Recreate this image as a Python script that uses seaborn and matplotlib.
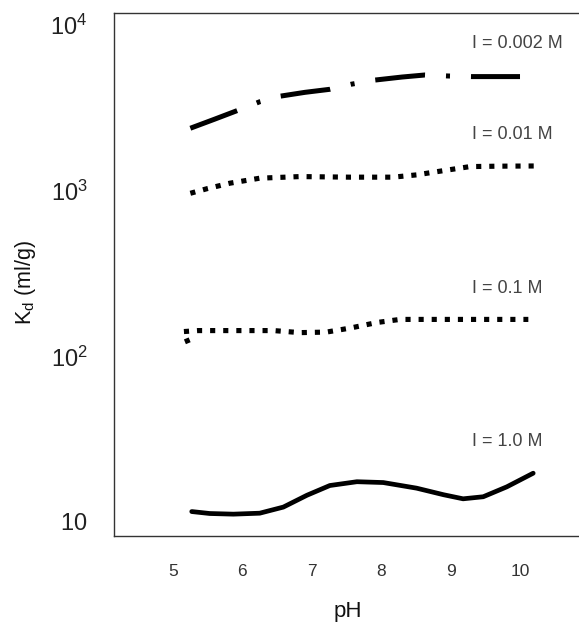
import matplotlib
matplotlib.use("Agg")
import matplotlib.pyplot as plt
import seaborn as sns
import pandas as pd
import numpy as np

# ---- data ----
ph_002 = [5.25, 5.6, 5.95, 6.25, 6.55, 6.9, 7.26, 7.57, 7.91, 8.3, 8.63, 8.97, 9.3, 9.7, 10.0]
kd_002 = [2380, 2700, 3070, 3440, 3720, 3920, 4090, 4390, 4650, 4850, 4990, 4920, 4880, 4880, 4880]

ph_001 = [5.25, 5.5, 5.82, 6.25, 6.83, 7.55, 8.17, 8.51, 8.9, 9.28, 9.7, 10.22]
kd_001 = [964, 1030, 1109, 1189, 1216, 1206, 1206, 1245, 1321, 1397, 1405, 1409]

ph_01 = [5.22, 5.15, 5.36, 5.87, 6.45, 6.83, 7.21, 7.55, 7.94, 8.27, 9.0, 10.12]
kd_01 = [120, 141, 143, 143, 143, 139, 140, 148, 160, 167, 167, 167]

ph_10 = [5.27, 5.53, 5.87, 6.25, 6.59, 6.93, 7.26, 7.65, 8.03, 8.51, 8.9, 9.18, 9.47, 9.81, 10.19]
kd_10 = [11.56, 11.25, 11.15, 11.3, 12.3, 14.5, 16.6, 17.5, 17.3, 16.0, 14.6, 13.8, 14.2, 16.3, 19.7]

series_labels = ["I = 0.002 M", "I = 0.01 M", "I = 0.1 M", "I = 1.0 M"]
x_ticks = [5, 6, 7, 8, 9, 10]
y_ticks = [10, 100, 1000, 10000]
y_ticklabels = [r"$\mathregular{10}$", r"$\mathregular{10^2}$", r"$\mathregular{10^3}$", r"$\mathregular{10^4}$"]

# ---- style ----
sns.set_style("white")
plt.rcParams["font.family"] = ["Liberation Sans", "DejaVu Sans"]
plt.rcParams["mathtext.fontset"] = "custom"
plt.rcParams["mathtext.rm"] = "Liberation Sans"
plt.rcParams["mathtext.it"] = "Liberation Sans:italic"

W, H = 579, 625
fig = plt.figure(figsize=(W / 100, H / 100), dpi=100)
fig.patch.set_facecolor("white")
ax = fig.add_axes([114 / W, 1 - 536 / H, 1 - 114 / W, (536 - 13) / H])

frames = [
    (pd.DataFrame({"pH": ph_002, "Kd": kd_002}), dict(linestyle=(0, (10.0, 4.2, 0.8, 4.2)), linewidth=3.6)),
    (pd.DataFrame({"pH": ph_001, "Kd": kd_001}), dict(linestyle=(0, (1.0, 1.55)), linewidth=3.7)),
    (pd.DataFrame({"pH": ph_01, "Kd": kd_01}), dict(linestyle=(0, (1.0, 1.55)), linewidth=3.7)),
    (pd.DataFrame({"pH": ph_10, "Kd": kd_10}), dict(linestyle="-", linewidth=3.4)),
]
for df, kw in frames:
    sns.lineplot(data=df, x="pH", y="Kd", ax=ax, sort=False, estimator=None,
                 color="black", legend=False, **kw)
for ln in ax.get_lines():
    ln.set_dash_capstyle("butt")
    ln.set_solid_capstyle("round")
    ln.set_solid_joinstyle("round")

ax.set_yscale("log")
ax.set_xlim(4.15, 10.85)
ax.set_ylim(8.23, 11810)
ax.set_xticks(x_ticks)
ax.set_xticklabels([str(t) for t in x_ticks])
ax.set_yticks(y_ticks)
ax.set_yticklabels(y_ticklabels)
ax.yaxis.set_minor_locator(matplotlib.ticker.NullLocator())
ax.tick_params(axis="y", length=0, pad=19, labelsize=17, labelcolor="#222222")
ax.tick_params(axis="x", length=0, pad=20, labelsize=12.5, labelcolor="#333333")
ax.set_xlabel("")
ax.set_ylabel("")

for side in ["left", "top", "bottom"]:
    ax.spines[side].set_color("#333333")
    ax.spines[side].set_linewidth(1.0)
ax.spines["right"].set_visible(False)

# curve labels
label_pos = [(9.31, 7680), (9.31, 2183), (9.31, 255), (9.31, 30.4)]
for txt, (xx, yy) in zip(series_labels, label_pos):
    ax.text(xx, yy, txt, ha="left", va="center", fontsize=13, color="#444444")

fig.text(348 / W, 1 - 611 / H, "pH", ha="center", va="center", fontsize=16, color="#111111")
fig.text(25 / W, 1 - 282 / H, r"K$_\mathregular{d}$ (ml/g)", ha="center", va="center",
         rotation=90, fontsize=15.5, color="#111111")

fig.savefig("out.png", dpi=100, facecolor="white")
